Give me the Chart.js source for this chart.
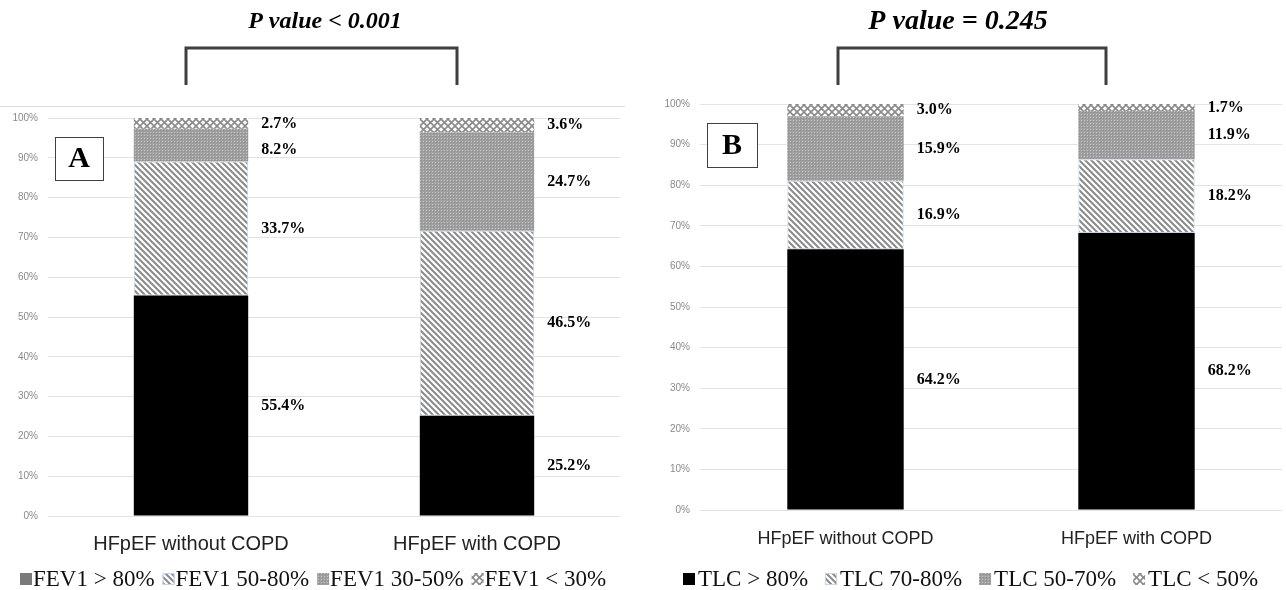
<!DOCTYPE html>
<html>
<head>
<meta charset="utf-8">
<script src="https://cdn.jsdelivr.net/npm/chart.js@4.4.1/dist/chart.umd.min.js"></script>
<style>
  body { margin: 0; background: #fff; }
  canvas { position: absolute; top: 0; }
</style>
</head>
<body>
<canvas id="chartA" width="640" height="590" style="left:0"></canvas>
<canvas id="chartB" width="643" height="590" style="left:643px"></canvas>
<script>
// data
var categories = ['HFpEF without COPD', 'HFpEF with COPD'];
var yTicks = [0, 10, 20, 30, 40, 50, 60, 70, 80, 90, 100];

var fevLabels = ['FEV1 > 80%', 'FEV1 50-80%', 'FEV1 30-50%', 'FEV1 < 30%'];
var fevGt80 = [55.4, 25.2];
var fev50to80 = [33.7, 46.5];
var fev30to50 = [8.2, 24.7];
var fevLt30 = [2.7, 3.6];

var tlcLabels = ['TLC > 80%', 'TLC 70-80%', 'TLC 50-70%', 'TLC < 50%'];
var tlcGt80 = [64.2, 68.2];
var tlc70to80 = [16.9, 18.2];
var tlc50to70 = [15.9, 11.9];
var tlcLt50 = [3.0, 1.7];

// fill patterns
function makePattern(size, draw) {
    var c = document.createElement('canvas');
    c.width = size; c.height = size;
    var g = c.getContext('2d');
    draw(g, size);
    return document.createElement('canvas').getContext('2d').createPattern(c, 'repeat');
}
var stripes = makePattern(6, function(g, s) {
    g.fillStyle = '#fff'; g.fillRect(0, 0, s, s);
    g.strokeStyle = '#8a8a8a'; g.lineWidth = 2;
    g.beginPath();
    g.moveTo(-1, -1); g.lineTo(s + 1, s + 1);
    g.moveTo(-1, s - 1); g.lineTo(1, s + 1);
    g.moveTo(s - 1, -1); g.lineTo(s + 1, 1);
    g.stroke();
});
var dots = makePattern(3, function(g, s) {
    g.fillStyle = '#9f9f9f'; g.fillRect(0, 0, s, s);
    g.fillStyle = '#c6c6c6'; g.fillRect(0, 0, 1, 1);
    g.fillStyle = '#8e8e8e'; g.fillRect(1, 1, 1, 1);
});
var cross = makePattern(7, function(g, s) {
    g.fillStyle = '#fff'; g.fillRect(0, 0, s, s);
    g.strokeStyle = '#8a8a8a'; g.lineWidth = 1.6;
    g.beginPath();
    g.moveTo(0, 0); g.lineTo(s, s);
    g.moveTo(s, 0); g.lineTo(0, s);
    g.stroke();
});

// value labels right of each segment, pushed apart when too close (like excel)
var barLabels = {
    id: 'barLabels',
    afterDatasetsDraw: function(chart) {
        var ctx = chart.ctx;
        var n = chart.data.datasets.length;
        ctx.save();
        ctx.font = 'bold 16px "Liberation Serif"';
        ctx.fillStyle = '#000';
        ctx.textAlign = 'left';
        ctx.textBaseline = 'middle';
        chart.data.labels.forEach(function(c, j) {
            var prev = -1e9;
            for (var i = n - 1; i >= 0; i--) {
                var bar = chart.getDatasetMeta(i).data[j];
                var y = Math.max((bar.y + bar.base) / 2, prev + 26);
                prev = y;
                ctx.fillText(chart.data.datasets[i].data[j].toFixed(1) + '%', bar.x + bar.width / 2 + 13, y);
            }
        });
        ctx.restore();
    }
};

// title, bracket, panel letter and legend row
var decor = {
    id: 'decor',
    afterDraw: function(chart, args, o) {
        var ctx = chart.ctx;
        ctx.save();
        if (o.frameY) {
            ctx.strokeStyle = '#dcdcdc'; ctx.lineWidth = 1;
            ctx.beginPath(); ctx.moveTo(0, o.frameY + 0.5); ctx.lineTo(o.frameRight, o.frameY + 0.5); ctx.stroke();
        }
        ctx.font = 'italic bold ' + o.titleSize + 'px "Liberation Serif"';
        ctx.fillStyle = '#000';
        ctx.textAlign = 'center';
        ctx.textBaseline = 'middle';
        ctx.fillText(o.title, o.titleX, 22);

        ctx.strokeStyle = '#3f3f3f'; ctx.lineWidth = 3;
        ctx.beginPath();
        ctx.moveTo(o.bracket[0], 85); ctx.lineTo(o.bracket[0], 48);
        ctx.lineTo(o.bracket[1], 48); ctx.lineTo(o.bracket[1], 85);
        ctx.stroke();

        var b = o.box;
        ctx.fillStyle = '#fff';
        ctx.fillRect(b[0], b[1], b[2], b[3]);
        ctx.strokeStyle = '#404040'; ctx.lineWidth = 1;
        ctx.strokeRect(b[0] + 0.5, b[1] + 0.5, b[2], b[3]);
        ctx.fillStyle = '#000';
        ctx.font = 'bold 30px "Liberation Serif"';
        ctx.fillText(o.letter, b[0] + b[2] / 2, b[1] + b[3] / 2 + 1);

        ctx.font = '23px "Liberation Serif"';
        ctx.textAlign = 'left';
        var x = o.legendX, y = 579;
        chart.data.datasets.forEach(function(ds, i) {
            ctx.fillStyle = o.legendFill[i] || ds.backgroundColor;
            ctx.fillRect(x, y - 6, 12, 12);
            if (ds.borderWidth) {
                ctx.strokeStyle = ds.borderColor; ctx.lineWidth = 1;
                ctx.strokeRect(x + 0.5, y - 5.5, 11, 11);
            }
            ctx.fillStyle = '#111';
            ctx.fillText(ds.label, x + o.legendText, y + 1);
            x += o.legendText + ctx.measureText(ds.label).width + o.legendGap;
        });
        ctx.restore();
    }
};

function makeChart(id, labels, series, cfg) {
    var fills = ['#000', stripes, dots, cross];
    return new Chart(document.getElementById(id), {
        type: 'bar',
        data: {
            labels: categories,
            datasets: series.map(function(s, i) {
                return {
                    label: labels[i],
                    data: s,
                    backgroundColor: fills[i],
                    borderColor: '#c5d6ec',
                    borderWidth: i === 1 ? 1 : 0,
                    borderSkipped: false,
                    barPercentage: 0.4,
                    categoryPercentage: 1
                };
            })
        },
        options: {
            responsive: false,
            animation: false,
            devicePixelRatio: 1,
            layout: { padding: { top: cfg.top, right: cfg.right, left: 0, bottom: 0 } },
            plugins: {
                legend: { display: false },
                tooltip: { enabled: false },
                decor: cfg.decor
            },
            scales: {
                x: {
                    stacked: true,
                    grid: { display: false },
                    border: { display: false },
                    ticks: { padding: cfg.xPad, color: '#222', font: { family: 'Liberation Sans', size: cfg.xFont } },
                    afterFit: function(s) { s.height = cfg.xHeight; }
                },
                y: {
                    stacked: true,
                    min: 0, max: 100,
                    afterBuildTicks: function(s) { s.ticks = yTicks.map(function(v) { return { value: v }; }); },
                    grid: { color: '#e3e3e3', lineWidth: 1, drawTicks: false },
                    border: { display: false },
                    ticks: {
                        padding: cfg.yPad, color: '#8a8a8a',
                        font: { family: 'Liberation Sans', size: 10 },
                        callback: function(v) { return v + '%'; }
                    },
                    afterFit: function(s) { s.width = cfg.yWidth; }
                }
            }
        },
        plugins: [barLabels, decor]
    });
}

makeChart('chartA', fevLabels, [fevGt80, fev50to80, fev30to50, fevLt30], {
    top: 118, right: 20, xHeight: 74, xPad: 8, xFont: 20, yWidth: 48, yPad: 10,
    decor: {
        title: 'P value < 0.001', titleX: 325, titleSize: 24, bracket: [186, 457],
        box: [55, 137, 48, 43], letter: 'A',
        frameY: 106, frameRight: 625,
        legendX: 20, legendText: 13, legendGap: 8, legendFill: ['#7a7a7a']
    }
});

makeChart('chartB', tlcLabels, [tlcGt80, tlc70to80, tlc50to70, tlcLt50], {
    top: 104, right: 4, xHeight: 80, xPad: 10, xFont: 18, yWidth: 57, yPad: 10,
    decor: {
        title: 'P value = 0.245', titleX: 315, titleSize: 28, bracket: [195, 463],
        box: [64, 123, 50, 44], letter: 'B',
        frameY: 0, frameRight: 0,
        legendX: 40, legendText: 15, legendGap: 17, legendFill: []
    }
});
</script>
</body>
</html>
